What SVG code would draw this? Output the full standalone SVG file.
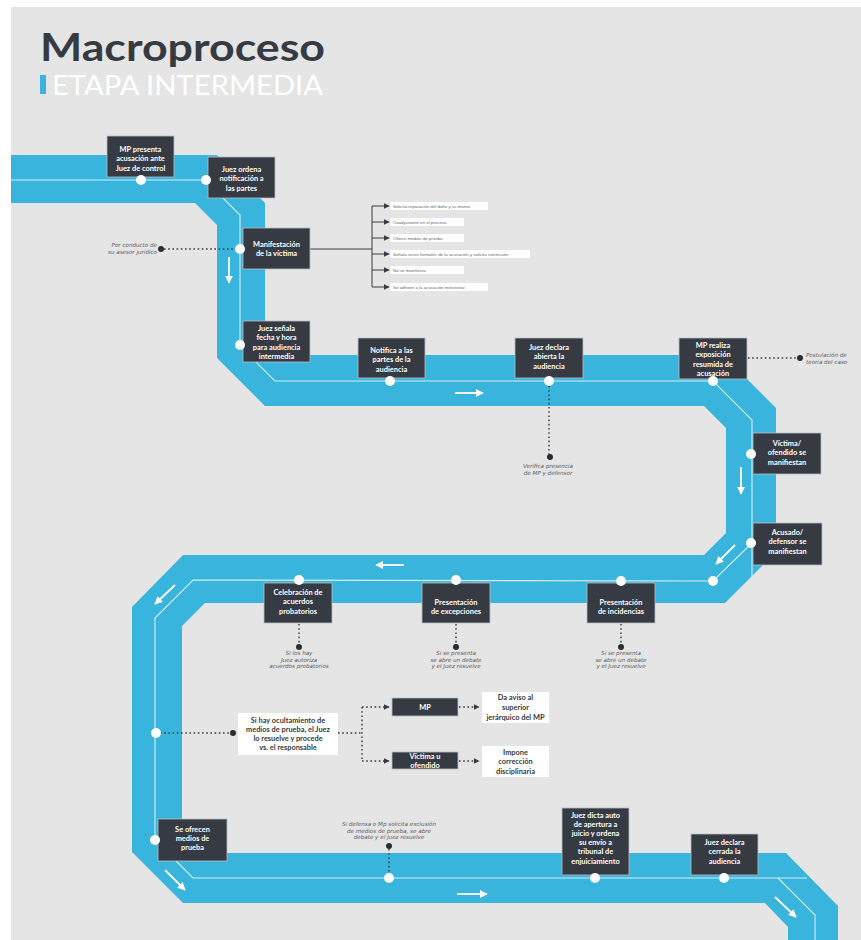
<svg xmlns="http://www.w3.org/2000/svg" width="861" height="940" viewBox="0 0 861 940">
<defs>
<style>
.bg{fill:#e5e5e5}
.road{fill:#39b4dc}
.cl{fill:none;stroke:#d4eef7;stroke-width:1.1}
.warr{fill:none;stroke:#ffffff;stroke-width:1.8}
.box{fill:#363b43;stroke:#b8bcc2;stroke-width:0.8}
.wbox{fill:#ffffff}
.nt{font-family:Lato,"Liberation Sans",sans-serif;font-size:7.4px;font-weight:700;fill:#ffffff;text-anchor:middle}
.dt{font-family:Lato,"Liberation Sans",sans-serif;font-size:7.4px;font-weight:700;fill:#363b43;text-anchor:middle}
.it{font-family:"Liberation Sans",sans-serif;font-size:4.4px;fill:#666a70}
.an{font-family:"DejaVu Sans",sans-serif;font-style:italic;font-size:5.6px;fill:#555a60}
.dot{fill:#ffffff}
.bdot{fill:#2a2e33}
.dl{fill:none;stroke:#363b43;stroke-width:1.4;stroke-dasharray:1.6 2.6}
.bl{fill:none;stroke:#363b43;stroke-width:1}
</style>
<marker id="wh" markerUnits="userSpaceOnUse" viewBox="0 0 10 10" refX="9" refY="5" markerWidth="8" markerHeight="8" orient="auto"><path d="M0,0 L10,5 L0,10 Z" fill="#ffffff"/></marker>
<marker id="dh" markerUnits="userSpaceOnUse" viewBox="0 0 10 10" refX="9" refY="5" markerWidth="6" markerHeight="6" orient="auto"><path d="M0,0 L10,5 L0,10 Z" fill="#363b43"/></marker>
</defs>
<rect class="bg" x="11" y="7" width="850" height="933"/>
<g id="title">
<text x="40" y="61" font-family="Lato,'Liberation Sans',sans-serif" font-weight="700" font-size="39" fill="#363b43" textLength="285" lengthAdjust="spacingAndGlyphs">Macroproceso</text>
<rect x="40" y="75" width="6" height="19" fill="#3ab4dc"/>
<text x="52" y="95" font-family="Lato,'Liberation Sans',sans-serif" font-weight="400" font-size="26" fill="#ffffff" textLength="271" lengthAdjust="spacingAndGlyphs">ETAPA INTERMEDIA</text>
</g>
<g id="road">
<polygon class="road" points="11,155 217,155 265,203 265,355 723,355 776,408 776,552 725,603 205,603 182,626 182,853 786,853 838,906 838,940 788,940 788,927 765,903 183,903 132,852 132,607 183,555 704,555 726,533 726,428 704,406 265,406 217,358 217,225 195,203 11,203"/>
<polyline class="cl" points="11,180 205,180 240,215 240,346 275,381 713,381 752,420 752,577"/>
<polyline class="cl" points="752,543 713,581 193,580 155,618 155,840 193,878 807,878"/>
<polyline class="cl" points="778,878 815,915 815,940"/>
</g>
<g id="connectors">
<line class="warr" x1="229" y1="257" x2="229" y2="283" marker-end="url(#wh)"/>
<line class="warr" x1="455" y1="393" x2="483" y2="393" marker-end="url(#wh)"/>
<line class="warr" x1="741" y1="467" x2="741" y2="494" marker-end="url(#wh)"/>
<line class="warr" x1="735" y1="545" x2="716" y2="564" marker-end="url(#wh)"/>
<line class="warr" x1="404" y1="565" x2="376" y2="565" marker-end="url(#wh)"/>
<line class="warr" x1="175" y1="585" x2="155" y2="604" marker-end="url(#wh)"/>
<line class="warr" x1="165" y1="870" x2="185" y2="890" marker-end="url(#wh)"/>
<line class="warr" x1="457" y1="894" x2="487" y2="894" marker-end="url(#wh)"/>
<line class="warr" x1="775" y1="897" x2="796" y2="917" marker-end="url(#wh)"/>
<line class="dl" x1="164" y1="249" x2="236" y2="249"/>
<line class="dl" x1="549" y1="386" x2="549" y2="455"/>
<line class="dl" x1="748" y1="358" x2="798" y2="358"/>
<line class="dl" x1="299" y1="624" x2="299" y2="645"/>
<line class="dl" x1="456" y1="624" x2="456" y2="645"/>
<line class="dl" x1="621" y1="624" x2="621" y2="645"/>
<line class="dl" x1="160" y1="733" x2="231" y2="733"/>
<polyline class="dl" points="338,733 362,733"/>
<polyline class="dl" points="362,707 362,761"/>
<line class="dl" x1="362" y1="707" x2="389" y2="707" marker-end="url(#dh)"/>
<line class="dl" x1="362" y1="761" x2="389" y2="761" marker-end="url(#dh)"/>
<line class="dl" x1="459" y1="707" x2="479" y2="707" marker-end="url(#dh)"/>
<line class="dl" x1="459" y1="761" x2="479" y2="761" marker-end="url(#dh)"/>
<line class="dl" x1="389" y1="849" x2="389" y2="873"/>
<line class="bl" x1="310" y1="249" x2="372" y2="249"/>
<line class="bl" x1="372" y1="206" x2="372" y2="287"/>
<line class="bl" x1="372" y1="206" x2="389" y2="206" marker-end="url(#dh)"/>
<line class="bl" x1="372" y1="222" x2="389" y2="222" marker-end="url(#dh)"/>
<line class="bl" x1="372" y1="238" x2="389" y2="238" marker-end="url(#dh)"/>
<line class="bl" x1="372" y1="254" x2="389" y2="254" marker-end="url(#dh)"/>
<line class="bl" x1="372" y1="270" x2="389" y2="270" marker-end="url(#dh)"/>
<line class="bl" x1="372" y1="287" x2="389" y2="287" marker-end="url(#dh)"/>
</g>
<g id="n1"><rect class="box" x="107" y="136" width="67" height="41"/><text class="nt" x="140.5"><tspan x="140.5" y="152">MP presenta</tspan><tspan x="140.5" y="161.3">acusación ante</tspan><tspan x="140.5" y="170.6">Juez de control</tspan></text><circle class="dot" cx="141" cy="180" r="5"/></g>
<g id="n2"><rect class="box" x="208" y="157" width="67" height="41"/><text class="nt"><tspan x="241.5" y="172">Juez ordena</tspan><tspan x="241.5" y="181.3">notificación a</tspan><tspan x="241.5" y="190.6">las partes</tspan></text><circle class="dot" cx="206" cy="180" r="5"/></g>
<g id="n3"><rect class="box" x="243" y="228" width="67" height="41"/><text class="nt"><tspan x="276.5" y="246.5">Manifestación</tspan><tspan x="276.5" y="255.8">de la víctima</tspan></text><circle class="dot" cx="240" cy="249" r="5"/></g>
<g id="n3-options">
<rect class="wbox" x="390" y="202" width="98" height="8"/><text class="it" x="393" y="207.6">Solicita reparación del daño y su monto</text>
<rect class="wbox" x="390" y="218" width="74" height="8"/><text class="it" x="393" y="223.6">Coadyuvante en el  proceso</text>
<rect class="wbox" x="390" y="234" width="74" height="8"/><text class="it" x="393" y="239.6">Ofrece medios de prueba</text>
<rect class="wbox" x="390" y="250" width="140" height="8"/><text class="it" x="393" y="255.6">Señala vicios formales de la acusación y solicita corrección</text>
<rect class="wbox" x="390" y="266" width="74" height="8"/><text class="it" x="393" y="271.6">No se manifiesta</text>
<rect class="wbox" x="390" y="283" width="98" height="8"/><text class="it" x="393" y="288.6">Se adhiere a la acusación ministerial</text>
</g>
<g id="a1"><circle class="bdot" cx="161" cy="249" r="3"/><text class="an" text-anchor="end"><tspan x="157" y="247">Por conducto de</tspan><tspan x="157" y="254">su asesor jurídico</tspan></text></g>
<g id="n4"><rect class="box" x="243" y="321" width="67" height="41"/><text class="nt"><tspan x="276.5" y="331">Juez señala</tspan><tspan x="276.5" y="340.3">fecha y hora</tspan><tspan x="276.5" y="349.6">para audiencia</tspan><tspan x="276.5" y="358.9">intermedia</tspan></text><circle class="dot" cx="240" cy="345" r="5"/></g>
<g id="n5"><rect class="box" x="358" y="338" width="67" height="40"/><text class="nt"><tspan x="391.5" y="353">Notifica a las</tspan><tspan x="391.5" y="362.3">partes de la</tspan><tspan x="391.5" y="371.6">audiencia</tspan></text><circle class="dot" cx="390" cy="381" r="5"/></g>
<g id="n6"><rect class="box" x="515" y="338" width="68" height="40"/><text class="nt"><tspan x="549" y="350">Juez declara</tspan><tspan x="549" y="359.3">abierta la</tspan><tspan x="549" y="368.6">audiencia</tspan></text><circle class="dot" cx="549" cy="381" r="5"/></g>
<g id="a2"><circle class="bdot" cx="550" cy="457" r="3"/><text class="an" text-anchor="middle"><tspan x="548" y="468">Verifica presencia</tspan><tspan x="548" y="475">de MP y defensor</tspan></text></g>
<g id="n7"><rect class="box" x="679" y="338" width="68" height="41"/><text class="nt"><tspan x="713" y="348">MP realiza</tspan><tspan x="713" y="357.3">exposición</tspan><tspan x="713" y="366.6">resumida de</tspan><tspan x="713" y="375.9">acusación</tspan></text><circle class="dot" cx="713" cy="381" r="5"/></g>
<g id="a3"><circle class="bdot" cx="800" cy="358" r="3"/><text class="an"><tspan x="806" y="357">Postulación de</tspan><tspan x="806" y="364">teoría del caso</tspan></text></g>
<g id="n8"><rect class="box" x="753" y="433" width="68" height="41"/><text class="nt"><tspan x="787" y="446">Víctima/</tspan><tspan x="787" y="455.3">ofendido se</tspan><tspan x="787" y="464.6">manifiestan</tspan></text><circle class="dot" cx="751" cy="454" r="5"/></g>
<g id="n9"><rect class="box" x="753" y="523" width="69" height="42"/><text class="nt"><tspan x="787.5" y="535">Acusado/</tspan><tspan x="787.5" y="544.3">defensor se</tspan><tspan x="787.5" y="553.6">manifiestan</tspan></text><circle class="dot" cx="751" cy="543" r="5"/></g>
<g id="n10"><circle class="dot" cx="713" cy="581" r="5"/></g>
<g id="n11"><rect class="box" x="587" y="583" width="68" height="40"/><text class="nt"><tspan x="621" y="604.5">Presentación</tspan><tspan x="621" y="613.8">de incidencias</tspan></text><circle class="dot" cx="621" cy="581" r="5"/></g>
<g id="a6"><circle class="bdot" cx="621" cy="647" r="3"/><text class="an" text-anchor="middle"><tspan x="621" y="655">Si se presenta</tspan><tspan x="621" y="661.5">se abre un debate</tspan><tspan x="621" y="668">y el Juez resuelve</tspan></text></g>
<g id="n12"><rect class="box" x="422" y="583" width="68" height="40"/><text class="nt"><tspan x="456" y="604.5">Presentación</tspan><tspan x="456" y="613.8">de excepciones</tspan></text><circle class="dot" cx="456" cy="580" r="5"/></g>
<g id="a5"><circle class="bdot" cx="456" cy="647" r="3"/><text class="an" text-anchor="middle"><tspan x="456" y="655">Si se presenta</tspan><tspan x="456" y="661.5">se abre un debate</tspan><tspan x="456" y="668">y el Juez resuelve</tspan></text></g>
<g id="n13"><rect class="box" x="264" y="583" width="68" height="40"/><text class="nt"><tspan x="298" y="595">Celebración de</tspan><tspan x="298" y="604.3">acuerdos</tspan><tspan x="298" y="613.6">probatorios</tspan></text><circle class="dot" cx="299" cy="580" r="5"/></g>
<g id="a4"><circle class="bdot" cx="299" cy="647" r="3"/><text class="an" text-anchor="middle"><tspan x="299" y="655">Si los hay</tspan><tspan x="299" y="661.5">Juez autoriza</tspan><tspan x="299" y="668">acuerdos probatorios</tspan></text></g>
<g id="n14"><circle class="dot" cx="156" cy="733" r="5"/><circle class="bdot" cx="233" cy="733" r="3"/><rect class="wbox" x="238" y="713" width="100" height="42"/><text class="dt"><tspan x="288" y="722.5">Si hay ocultamiento de</tspan><tspan x="288" y="731.8">medios de prueba, el Juez</tspan><tspan x="288" y="741.1">lo resuelve y procede</tspan><tspan x="288" y="750.4">vs. el responsable</tspan></text></g>
<g id="n14a"><rect class="box" x="392" y="698" width="66" height="18"/><text class="nt" x="425" y="709.5">MP</text></g>
<g id="n14b"><rect class="box" x="392" y="752" width="66" height="17"/><text class="nt"><tspan x="425" y="758.5">Víctima u</tspan><tspan x="425" y="767.5">ofendido</tspan></text></g>
<g id="n14c"><rect class="wbox" x="482" y="692" width="67" height="31"/><text class="dt"><tspan x="515.5" y="699.5">Da aviso al</tspan><tspan x="515.5" y="709.5">superior</tspan><tspan x="515.5" y="719.5">jerárquico del MP</tspan></text></g>
<g id="n14d"><rect class="wbox" x="482" y="746" width="67" height="31"/><text class="dt"><tspan x="515.5" y="754.5">Impone</tspan><tspan x="515.5" y="764">corrección</tspan><tspan x="515.5" y="773.5">disciplinaria</tspan></text></g>
<g id="n15"><rect class="box" x="158" y="819" width="69" height="42"/><text class="nt"><tspan x="192.5" y="831.5">Se ofrecen</tspan><tspan x="192.5" y="840.8">medios de</tspan><tspan x="192.5" y="850.1">prueba</tspan></text><circle class="dot" cx="155" cy="840" r="5"/></g>
<g id="n16"><circle class="dot" cx="389" cy="878" r="5"/><circle class="bdot" cx="389" cy="846" r="3"/><text class="an" text-anchor="middle"><tspan x="389" y="826">Si defensa o Mp solicita exclusión</tspan><tspan x="389" y="832.5">de medios de prueba, se abre</tspan><tspan x="389" y="839">debate  y el Juez resuelve</tspan></text></g>
<g id="n17"><rect class="box" x="562" y="808" width="67" height="67"/><text class="nt"><tspan x="595.5" y="817.5">Juez dicta auto</tspan><tspan x="595.5" y="826.7">de apertura a</tspan><tspan x="595.5" y="835.9">juicio y ordena</tspan><tspan x="595.5" y="845.1">su envío a</tspan><tspan x="595.5" y="854.3">tribunal de</tspan><tspan x="595.5" y="863.5">enjuiciamiento</tspan></text><circle class="dot" cx="595" cy="878" r="5"/></g>
<g id="n18"><rect class="box" x="691" y="834" width="67" height="41"/><text class="nt"><tspan x="724.5" y="845">Juez declara</tspan><tspan x="724.5" y="854.3">cerrada la</tspan><tspan x="724.5" y="863.6">audiencia</tspan></text><circle class="dot" cx="724" cy="878" r="5"/></g>
</svg>
